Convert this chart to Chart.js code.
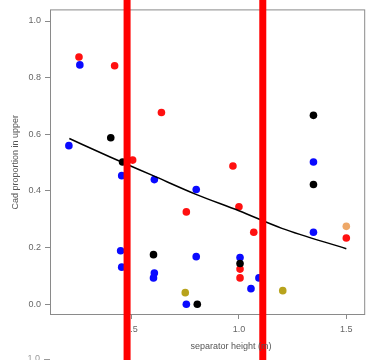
<!DOCTYPE html>
<html>
<head>
<meta charset="utf-8">
<script src="https://cdn.jsdelivr.net/npm/chart.js@4/dist/chart.umd.min.js"></script>
<style>
  html, body { margin: 0; padding: 0; background: #fff; }
  #wrap { width: 369px; height: 360px; position: relative; }
</style>
</head>
<body>
<div id="wrap"><canvas id="c" width="369" height="360"></canvas></div>
<script>
// ---- Data ----
const redX   = [0.255, 0.421, 0.505, 0.639, 0.972, 0.755, 1.000, 1.069, 1.500, 1.005, 1.005];
const redY   = [0.873, 0.842, 0.509, 0.677, 0.488, 0.326, 0.344, 0.254, 0.234, 0.124, 0.093];
const blueX  = [0.259, 0.208, 0.454, 0.606, 0.801, 1.347, 1.347, 0.449, 0.454, 0.606, 0.602, 0.801, 0.755, 1.005, 1.056, 1.093];
const blueY  = [0.845, 0.560, 0.454, 0.440, 0.405, 0.502, 0.254, 0.189, 0.131, 0.110, 0.093, 0.168, 0.000, 0.165, 0.055, 0.093];
const blackX = [0.403, 0.458, 1.347, 1.347, 0.602, 0.806, 1.005];
const blackY = [0.588, 0.502, 0.667, 0.423, 0.175, 0.000, 0.144];
const oliveX = [0.750, 1.204];
const oliveY = [0.041, 0.048];
const orangeX = [1.500];
const orangeY = [0.275];
const curveX = [0.21, 0.40, 0.60, 0.80, 1.00, 1.20, 1.50];
const curveY = [0.585, 0.520, 0.454, 0.388, 0.330, 0.268, 0.196];
const yTicks = [0.0, 0.2, 0.4, 0.6, 0.8, 1.0];
const xTicks = [0.5, 1.0, 1.5];
const markerX = [0.479, 1.111];   // red vertical marker lines
const xTitle = 'separator height (m)';
const yTitle = 'Cad proportion in upper';

const pts = (xs, ys) => xs.map((x, i) => ({ x, y: ys[i] }));
const FONT = '"Liberation Sans", Arial, sans-serif';
const GREY = '#666';

const framePlugin = {
  id: 'frame',
  beforeDatasetsDraw(chart) {
    const { ctx, chartArea: a } = chart;
    ctx.save();
    ctx.strokeStyle = '#8a8a8a';
    ctx.lineWidth = 1;
    ctx.strokeRect(a.left + 0.5, a.top + 0.5, a.right - a.left - 1, a.bottom - a.top - 1);
    ctx.restore();
  },
  afterDraw(chart) {
    const { ctx } = chart;
    const xs = chart.scales.x;
    ctx.save();
    ctx.fillStyle = '#ff0000';
    markerX.forEach(v => {
      const px = xs.getPixelForValue(v);
      ctx.fillRect(px - 3.5, 0, 7, chart.height);
    });
    ctx.fillStyle = '#555';
    ctx.font = '9px ' + FONT;
    ctx.textAlign = 'center';
    ctx.textBaseline = 'middle';
    ctx.fillText(xTitle, xs.getPixelForValue(1.0) - 8, 347);
    ctx.translate(16, (chart.chartArea.top + chart.chartArea.bottom) / 2);
    ctx.rotate(-Math.PI / 2);
    ctx.fillText(yTitle, 0, 0);
    ctx.restore();
    ctx.save();
    ctx.fillStyle = '#999';
    ctx.font = '9px ' + FONT;
    ctx.textAlign = 'right';
    ctx.textBaseline = 'middle';
    ctx.fillText('1.0', 40, 359);
    ctx.strokeStyle = '#999';
    ctx.beginPath(); ctx.moveTo(44, 359.5); ctx.lineTo(50, 359.5); ctx.stroke();
    ctx.restore();
  }
};

const dot = (color) => ({
  backgroundColor: color, borderColor: color, pointRadius: 3.8, pointHoverRadius: 3.8, borderWidth: 0
});

new Chart(document.getElementById('c'), {
  type: 'scatter',
  data: {
    datasets: [
      { label: 'curve', data: pts(curveX, curveY), showLine: true, pointRadius: 0,
        borderColor: '#000', borderWidth: 1.5, tension: 0.4, cubicInterpolationMode: 'monotone', fill: false },
      Object.assign({ label: 'black', data: pts(blackX, blackY) }, dot('#000000')),
      Object.assign({ label: 'blue', data: pts(blueX, blueY) }, dot('#0a0aff')),
      Object.assign({ label: 'red', data: pts(redX, redY) }, dot('#ff1010')),
      Object.assign({ label: 'olive', data: pts(oliveX, oliveY) }, dot('#b8a31c')),
      Object.assign({ label: 'orange', data: pts(orangeX, orangeY) }, dot('#eea868'))
    ]
  },
  options: {
    responsive: false,
    animation: false,
    events: [],
    layout: { padding: { top: 1, right: -2, bottom: 0, left: 0 } },
    plugins: { legend: { display: false }, tooltip: { enabled: false } },
    scales: {
      x: {
        type: 'linear', min: 0.12, max: 1.588,
        afterBuildTicks: s => { s.ticks = xTicks.map(v => ({ value: v })); },
        afterFit: s => { s.height = 45; s.paddingRight = 0; },
        grid: { drawOnChartArea: false, tickLength: 4, color: '#8a8a8a' },
        border: { display: false },
        ticks: { color: GREY, font: { family: FONT, size: 9 }, padding: 5,
                 maxRotation: 0, callback: v => v.toFixed(1) }
      },
      y: {
        type: 'linear', min: -0.038, max: 1.041,
        afterBuildTicks: s => { s.ticks = yTicks.map(v => ({ value: v })); },
        afterFit: s => { s.width = 50; },
        grid: { drawOnChartArea: false, tickLength: 5, color: '#8a8a8a' },
        border: { display: false },
        ticks: { color: GREY, font: { family: FONT, size: 9 }, padding: 4,
                 callback: v => v.toFixed(1) }
      }
    }
  },
  plugins: [framePlugin]
});
</script>
</body>
</html>
